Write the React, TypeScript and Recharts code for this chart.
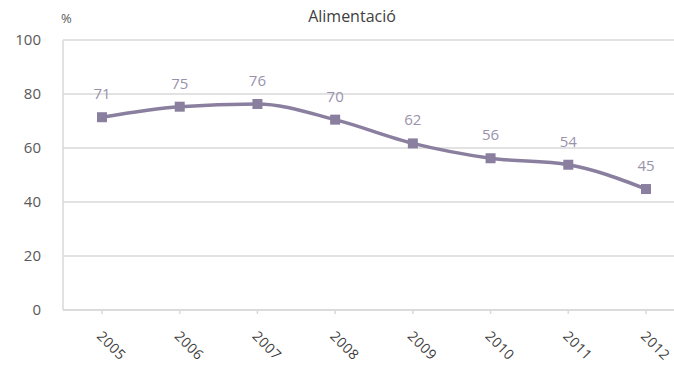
import React from 'react';
import { LineChart, Line, XAxis, YAxis, CartesianGrid, LabelList } from 'recharts';

const years = ['2005', '2006', '2007', '2008', '2009', '2010', '2011', '2012'];
const shares = [71.4, 75.3, 76.3, 70.5, 61.7, 56.2, 53.8, 44.8];
const labels = ['71', '75', '76', '70', '62', '56', '54', '45'];
const yTicks = [0, 20, 40, 60, 80, 100];

const data = years.map((year, i) => ({ year, value: shares[i], label: labels[i] }));

const FONT = '"Open Sans", "DejaVu Sans", sans-serif';
const LINE = '#8a7f9f';

const YearTick = ({ x, y, payload }: any) => (
  <g transform={`translate(${x - 6},${y + 23})`}>
    <text transform="rotate(45)" textAnchor="start" fill="#404040" fontSize={14} fontFamily={FONT} letterSpacing={0.5}>
      {payload.value}
    </text>
  </g>
);

const SquareDot = ({ cx, cy }: any) => (
  <rect x={cx - 5} y={cy - 5} width={10} height={10} fill={LINE} />
);

const App: React.FC = () => (
  <div style={{ position: 'absolute', left: 0, top: 0, width: 674, height: 370, overflow: 'hidden', background: '#fff', fontFamily: FONT }}>
    <div style={{ position: 'absolute', left: 0, width: 704, top: 5, textAlign: 'center', fontSize: 16, color: '#404040' }}>
      Alimentació
    </div>
    <div style={{ position: 'absolute', left: 61, top: 9, fontSize: 13, color: '#595959' }}>%</div>
    <LineChart width={700} height={370} data={data} margin={{ top: 40, right: 15, left: 0, bottom: 10 }}>
      <CartesianGrid vertical={false} stroke="#d9d9d9" strokeWidth={1.5} />
      <XAxis
        dataKey="year"
        height={50}
        stroke="#d9d9d9"
        strokeWidth={1.5}
        tickSize={4}
        tickMargin={0}
        tick={<YearTick />}
        interval={0}
        padding={{ left: 39, right: 39 }}
      />
      <YAxis
        domain={[0, 100]}
        ticks={yTicks}
        width={63}
        stroke="#d9d9d9"
        strokeWidth={1.5}
        tickLine={false}
        tickSize={0}
        tickMargin={22}
        tick={{ fill: '#595959', fontSize: 15, fontFamily: FONT }}
      />
      <Line
        type="monotone"
        dataKey="value"
        stroke={LINE}
        strokeWidth={3.5}
        dot={<SquareDot />}
        activeDot={false}
        isAnimationActive={false}
      >
        <LabelList dataKey="label" position="top" offset={18} fill="#9a92ad" fontSize={15} fontFamily={FONT} />
      </Line>
    </LineChart>
  </div>
);

export default App;
